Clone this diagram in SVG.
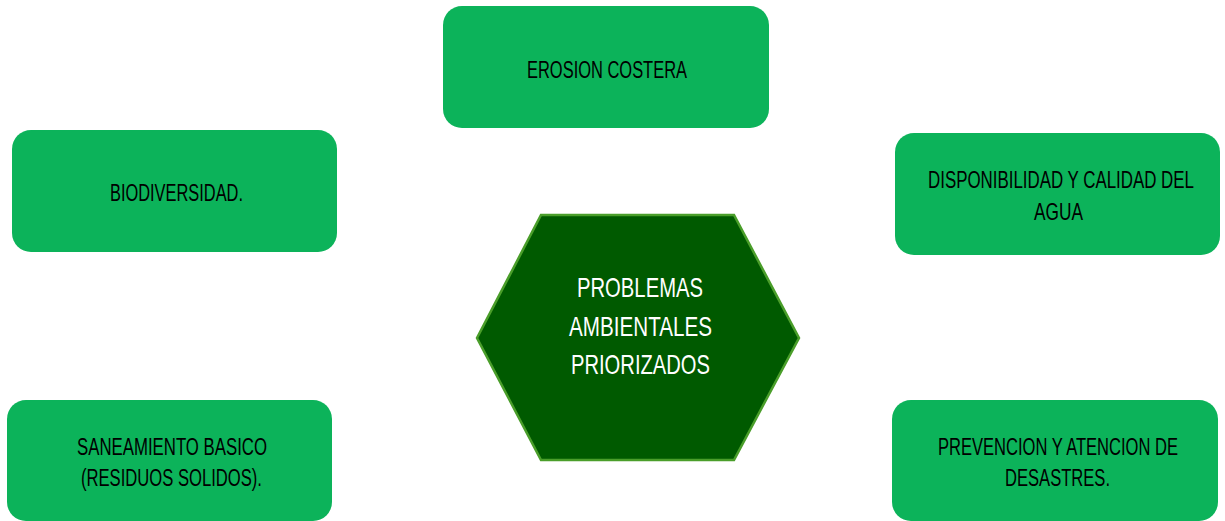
<svg xmlns="http://www.w3.org/2000/svg" width="1225" height="521" viewBox="0 0 1225 521">
<style>
.box{fill:#0CB35A;}
.t{font-family:"Liberation Sans",Arial,sans-serif;font-size:24px;fill:#000;}
.c{font-family:"Liberation Sans",Arial,sans-serif;font-size:28px;fill:#fff;}
</style>
<rect width="1225" height="521" fill="#fff"/>
<g id="connectors"></g>
<g id="node-erosion">
<rect class="box" x="443" y="6" width="326" height="122" rx="19"/>
<g transform="scale(0.7,1)">
<text class="t" x="752.86" y="78" textLength="228.57" lengthAdjust="spacingAndGlyphs">EROSION COSTERA</text>
</g>
</g>
<g id="node-biodiversidad">
<rect class="box" x="12" y="130" width="325" height="122" rx="19"/>
<g transform="scale(0.7,1)">
<text class="t" x="157.14" y="201" textLength="190" lengthAdjust="spacingAndGlyphs">BIODIVERSIDAD.</text>
</g>
</g>
<g id="node-agua">
<rect class="box" x="895" y="133" width="325" height="122" rx="19"/>
<g transform="scale(0.7,1)">
<text class="t" x="1325.71" y="188" textLength="380" lengthAdjust="spacingAndGlyphs">DISPONIBILIDAD Y CALIDAD DEL</text>
<text class="t" x="1477.14" y="220" textLength="70" lengthAdjust="spacingAndGlyphs">AGUA</text>
</g>
</g>
<g id="node-saneamiento">
<rect class="box" x="7" y="400" width="325" height="121" rx="19"/>
<g transform="scale(0.7,1)">
<text class="t" x="110" y="455" textLength="271.43" lengthAdjust="spacingAndGlyphs">SANEAMIENTO BASICO</text>
<text class="t" x="115.71" y="486" textLength="258.57" lengthAdjust="spacingAndGlyphs">(RESIDUOS SOLIDOS).</text>
</g>
</g>
<g id="node-desastres">
<rect class="box" x="892" y="400" width="326" height="121" rx="19"/>
<g transform="scale(0.7,1)">
<text class="t" x="1340" y="455" textLength="342.86" lengthAdjust="spacingAndGlyphs">PREVENCION Y ATENCION DE</text>
<text class="t" x="1435.71" y="486" textLength="150" lengthAdjust="spacingAndGlyphs">DESASTRES.</text>
</g>
</g>
<g id="node-center">
<polygon points="541,215 734,215 799,338 734,460 541,460 477,338" fill="#005A00" stroke="#4A9E2A" stroke-width="2.5"/>
<g transform="scale(0.7,1)">
<text class="c" x="824.29" y="297" textLength="180" lengthAdjust="spacingAndGlyphs">PROBLEMAS</text>
<text class="c" x="812.86" y="336" textLength="204.29" lengthAdjust="spacingAndGlyphs">AMBIENTALES</text>
<text class="c" x="815.71" y="374" textLength="198.57" lengthAdjust="spacingAndGlyphs">PRIORIZADOS</text>
</g>
</g>
</svg>
